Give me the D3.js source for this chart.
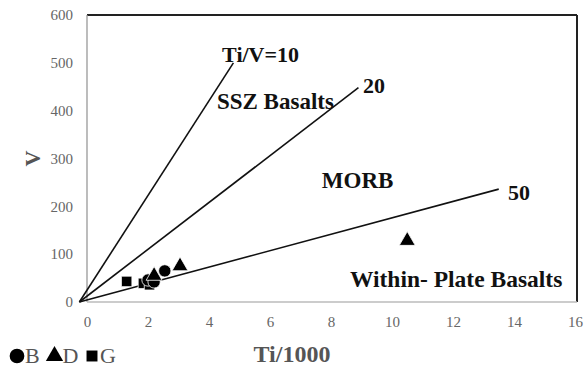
<!DOCTYPE html>
<html><head><meta charset="utf-8">
<script src="https://cdn.jsdelivr.net/npm/d3@7"></script>
<style>body{margin:0;background:#fff}svg{display:block}</style>
</head><body>
<script>
const xTicks = [0,2,4,6,8,10,12,14,16];
const yTicks = [0,100,200,300,400,500,600];
const seriesB = [[2.0,46],[2.55,65],[2.2,42]];
const seriesD = [[2.2,55],[3.05,75],[10.5,128]];
const seriesG = [[1.3,43],[1.85,39],[2.05,36]];
const ratioLines = [
  {name:"10", pts:[[-0.25,0],[4.8,500]]},
  {name:"20", pts:[[-0.25,0],[8.9,448]]},
  {name:"50", pts:[[-0.25,0],[13.5,236]]}
];
const labels = [
  {t:"Ti/V=10", x:4.43, y:502, s:22},
  {t:"20", x:9.05, y:437, s:22},
  {t:"SSZ Basalts", x:4.26, y:403, s:23},
  {t:"MORB", x:7.7, y:238, s:23},
  {t:"50", x:13.8, y:213, s:22},
  {t:"Within- Plate Basalts", x:8.62, y:32, s:23.5}
];
const legendItems = [
  {k:"B", type:"circle"},
  {k:"D", type:"triangle"},
  {k:"G", type:"square"}
];

const W=584,H=367;
const svg=d3.select("body").append("svg").attr("width",W).attr("height",H);
const x=d3.scaleLinear().domain([0,16]).range([87,575]);
const y=d3.scaleLinear().domain([0,600]).range([302,15]);
const serif="'Liberation Serif','Times New Roman',serif";

// frame
svg.append("line").attr("x1",x(0)).attr("x2",x(16)+2).attr("y1",y(600)).attr("y2",y(600)).attr("stroke","#222").attr("stroke-width",2);
svg.append("line").attr("x1",x(16)+2).attr("x2",x(16)+2).attr("y1",y(600)).attr("y2",y(0)).attr("stroke","#222").attr("stroke-width",2);
svg.append("line").attr("x1",x(0)).attr("x2",x(0)).attr("y1",y(600)).attr("y2",y(0)).attr("stroke","#999").attr("stroke-width",1.3);
svg.append("line").attr("x1",x(0)).attr("x2",x(16)+2).attr("y1",y(0)).attr("y2",y(0)).attr("stroke","#bbb").attr("stroke-width",1.5);

// ticks
const xa=d3.axisBottom(x).tickValues(xTicks).tickSize(0).tickPadding(14).tickFormat(d3.format("d"));
const gx=svg.append("g").attr("transform",`translate(0,${y(0)})`).call(xa);
gx.select(".domain").remove();
gx.selectAll("text").attr("font-family",serif).attr("font-size",15).attr("fill","#666");
const ya=d3.axisLeft(y).tickValues(yTicks).tickSize(0).tickPadding(14).tickFormat(d3.format("d"));
const gy=svg.append("g").attr("transform",`translate(${x(0)},0)`).call(ya);
gy.select(".domain").remove();
gy.selectAll("text").attr("font-family",serif).attr("font-size",15).attr("fill","#666");

// ratio lines
const line=d3.line().x(d=>x(d[0])).y(d=>y(d[1]));
svg.selectAll(".rl").data(ratioLines).enter().append("path")
  .attr("d",d=>line(d.pts)).attr("fill","none").attr("stroke","#111").attr("stroke-width",1.6);

// labels
svg.selectAll(".lb").data(labels).enter().append("text")
  .attr("x",d=>x(d.x)).attr("y",d=>y(d.y)).text(d=>d.t)
  .attr("font-family",serif).attr("font-weight","bold").attr("font-size",d=>d.s).attr("fill","#111");

// points
const types={circle:d3.symbolCircle,triangle:d3.symbolTriangle,square:d3.symbolSquare};
function plot(data,type,size){
  svg.append("g").selectAll("path").data(data).enter().append("path")
    .attr("transform",d=>`translate(${x(d[0])},${y(d[1])})`)
    .attr("d",d3.symbol().type(type).size(size)()).attr("fill","#000").attr("stroke","#fff").attr("stroke-width",0.8);
}
plot(seriesG,d3.symbolSquare,110);
plot(seriesB,d3.symbolCircle,120);
plot(seriesD,d3.symbolTriangle,110);

// axis titles
svg.append("text").attr("x",292).attr("y",362).attr("text-anchor","middle").text("Ti/1000")
  .attr("font-family",serif).attr("font-weight","bold").attr("font-size",24).attr("fill","#555");
svg.append("text").attr("transform",`translate(40,${y(300)}) rotate(-90)`).attr("text-anchor","middle").text("V")
  .attr("font-family",serif).attr("font-weight","bold").attr("font-size",22).attr("fill","#555");

// legend
const lg=svg.append("g").attr("transform","translate(10,0)");
const symSize={circle:170,triangle:130,square:120};
legendItems.forEach((it,i)=>{
  const ox=i*37.5;
  lg.append("path").attr("transform",`translate(${ox+7},${356})`)
    .attr("d",d3.symbol().type(types[it.type]).size(symSize[it.type])()).attr("fill","#000");
  lg.append("text").attr("x",ox+15).attr("y",363).text(it.k)
    .attr("font-family",serif).attr("font-size",22).attr("fill","#555");
});
</script>
</body></html>
